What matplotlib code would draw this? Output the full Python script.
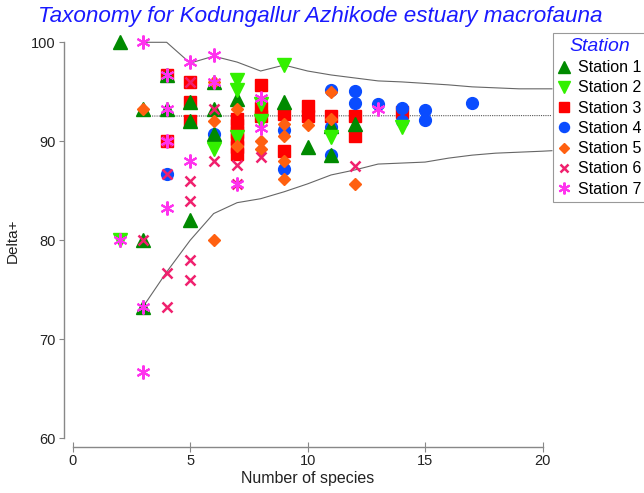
import matplotlib
matplotlib.use("Agg")
import matplotlib.pyplot as plt

plt.rcParams["font.family"] = ["Liberation Sans", "DejaVu Sans"]

# station data (number of species, Delta+)
s1_x = [2, 3, 3, 3, 4, 4, 5, 5, 5, 6, 6, 6, 7, 9, 10, 11, 11, 12]
s1_y = [100, 93.3, 80, 73.3, 96.7, 93.3, 94, 92, 82, 96, 93.3, 90.7, 94.3, 94, 89.4, 91.5, 88.6, 91.7]
s2_x = [2, 6, 7, 7, 7, 8, 8, 9, 11, 14]
s2_y = [80, 89.2, 96.2, 95.2, 90.4, 93.8, 92.0, 97.7, 90.4, 91.4]
s3_x = [4, 4, 5, 5, 5, 7, 7, 7, 7, 7, 7, 8, 8, 8, 9, 9, 10, 10, 11, 12, 12, 14]
s3_y = [96.7, 90, 96, 94, 92, 92.3, 91.6, 90.9, 90.2, 89.4, 88.7, 95.7, 93.4, 92.6,
        92.8, 89.0, 93.6, 92.6, 92.6, 92.6, 90.5, 93.0]
s4_x = [4, 6, 9, 9, 11, 11, 11, 12, 12, 13, 14, 14, 15, 15, 17]
s4_y = [86.7, 90.7, 91.1, 87.2, 95.2, 91.4, 88.6, 95.1, 93.9, 93.8, 93.4, 92.1, 93.2, 92.2, 93.9]
s5_x = [3, 6, 6, 6, 7, 7, 8, 8, 9, 9, 9, 9, 10, 11, 11, 12]
s5_y = [93.3, 96, 92, 80, 93.3, 89.5, 90, 89.2, 91.7, 90.5, 88, 86.2, 91.6, 95.0, 92.3, 85.7]
s6_x = [3, 4, 4, 4, 4, 5, 5, 5, 5, 5, 6, 6, 7, 7, 8, 12]
s6_y = [80, 90, 86.7, 76.7, 73.3, 96, 86, 84, 78, 76, 93.3, 88, 87.6, 85.7, 88.4, 87.5]
s7_x = [2, 3, 3, 3, 4, 4, 4, 4, 5, 5, 6, 6, 7, 8, 8, 13]
s7_y = [80, 100, 73.3, 66.7, 96.7, 93.3, 90, 83.3, 98, 88, 98.7, 96, 85.7, 94.4, 91.3, 93.3]

# 95% probability funnel and expected Delta+
funnel_x = [3, 4, 5, 6, 7, 8, 9, 10, 11, 12, 13, 14, 15, 16, 17, 18, 19, 20, 20.4]
upper = [100, 100, 97.9, 98.6, 98.0, 97.1, 97.7, 97.1, 96.7, 96.4, 96.1, 96.0, 95.85,
         95.7, 95.5, 95.4, 95.3, 95.3, 95.3]
lower = [73.3, 76.8, 80.0, 82.7, 83.8, 84.2, 84.9, 85.7, 86.6, 87.1, 87.7, 87.8, 87.9,
         88.3, 88.6, 88.8, 88.9, 89.0, 89.05]
mean_x = [3, 20.4]
mean_y = [92.55, 92.6]

fig = plt.figure(figsize=(6.44, 4.93), dpi=100)
ax = fig.add_axes([0.1129, 0.111, 0.7295, 0.8032])

ax.plot(funnel_x, upper, color="#666666", lw=0.8, clip_on=False, zorder=1)
ax.plot(funnel_x, lower, color="#666666", lw=0.8, clip_on=False, zorder=1)
ax.plot(mean_x, mean_y, color="#555555", lw=0.8, ls=(0, (1, 1)), clip_on=False, zorder=1)

asterisk = (6, 2, 0)
stations = [
    ("Station 3", s3_x, s3_y, "s", "#ff0000", 8, 1, 3),
    ("Station 4", s4_x, s4_y, "o", "#0a4cff", 8.5, 1, 4),
    ("Station 1", s1_x, s1_y, "^", "#008a00", 9.5, 1, 5),
    ("Station 2", s2_x, s2_y, "v", "#33f000", 9.5, 1, 6),
    ("Station 5", s5_x, s5_y, "D", "#ff6010", 6.2, 1, 7),
    ("Station 6", s6_x, s6_y, "x", "#f0206e", 6.5, 1.8, 8),
    ("Station 7", s7_x, s7_y, asterisk, "#ff33ee", 10, 1.5, 9),
]
handles = {}
for name, xs, ys, mk, col, ms, mew, z in stations:
    h, = ax.plot(xs, ys, ls="none", marker=mk, color=col, markersize=ms,
                 markeredgewidth=mew, clip_on=False, zorder=z, label=name)
    handles[name] = h

ax.set_xlim(0, 20)
ax.set_ylim(60, 100)
ax.set_xticks([0, 5, 10, 15, 20])
ax.set_yticks([60, 70, 80, 90, 100])
for s in ["top", "right"]:
    ax.spines[s].set_visible(False)
ax.spines["left"].set_position(("outward", 6.5))
ax.spines["bottom"].set_position(("outward", 6))
ax.spines["left"].set_bounds(60, 100)
ax.spines["bottom"].set_bounds(0, 20)
for s in ["left", "bottom"]:
    ax.spines[s].set_color("#888888")
    ax.spines[s].set_linewidth(1.0)
ax.tick_params(axis="y", direction="out", length=3.6, color="#888888",
               labelsize=10.5, labelcolor="#222222", pad=2)
ax.tick_params(axis="x", direction="inout", length=7, color="#888888",
               labelsize=10.5, labelcolor="#222222", pad=2)
ax.set_xlabel("Number of species", fontsize=11.5, color="#222222", labelpad=2)
ax.set_ylabel("Delta+", fontsize=11, color="#222222", labelpad=8)

fig.text(0.059, 0.967, "Taxonomy for Kodungallur Azhikode estuary macrofauna",
         fontsize=16.2, style="italic", color="#1a1aff", va="center", ha="left")

order = ["Station 1", "Station 2", "Station 3", "Station 4", "Station 5", "Station 6", "Station 7"]
leg = ax.legend([handles[n] for n in order], order, loc="upper right",
                bbox_to_anchor=(1.004, 0.933), bbox_transform=fig.transFigure,
                borderaxespad=0, fontsize=11.5, title="Station",
                title_fontproperties={"size": 14, "style": "italic"},
                fancybox=False, framealpha=1, edgecolor="#999999",
                handlelength=0.8, handletextpad=0.5, borderpad=0.3,
                labelspacing=0.33, markerscale=0.85)
leg.get_title().set_color("#1a1aff")
leg.get_frame().set_linewidth(0.8)
leg.set_zorder(20)

fig.savefig("out.png", dpi=100)
